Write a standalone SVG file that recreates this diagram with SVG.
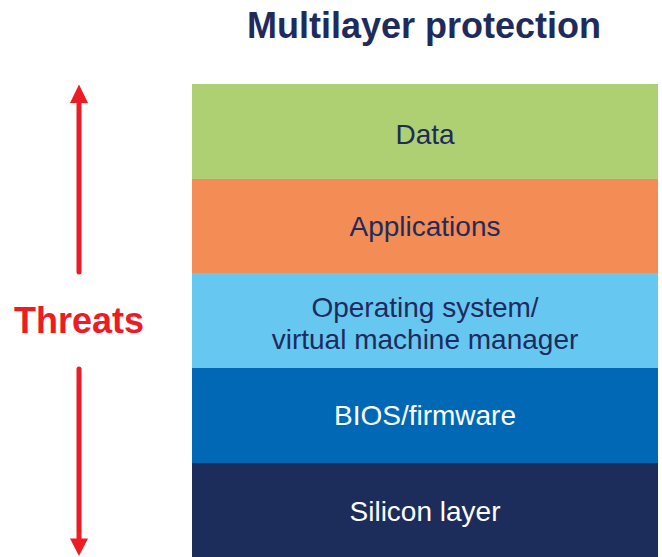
<svg xmlns="http://www.w3.org/2000/svg" width="662" height="557" viewBox="0 0 662 557">
<style>
  .lbl { font-family: "Liberation Sans", Arial, sans-serif; font-size: 28px; text-anchor: middle; }
  .dk { fill: #1E2B5C; }
  .lt { fill: #FFFFFF; }
  .arrow { stroke: #ED1C24; stroke-width: 5; stroke-linecap: round; fill: none; }
  .head { fill: #ED1C24; }
</style>
<rect width="662" height="557" fill="#FFFFFF"/>
<text x="424" y="38" font-family="'Liberation Sans', Arial, sans-serif" font-size="36" font-weight="bold" fill="#1E2B5C" text-anchor="middle">Multilayer protection</text>
<g id="data">
  <rect x="192" y="84" width="466" height="95" fill="#AED072"/>
  <text class="lbl dk" x="425" y="144">Data</text>
</g>
<g id="applications">
  <rect x="192" y="179" width="466" height="94" fill="#F48C55"/>
  <text class="lbl dk" x="425" y="236">Applications</text>
</g>
<g id="os">
  <rect x="192" y="273" width="466" height="95" fill="#66C8F1"/>
  <text class="lbl dk" x="425" y="317">Operating system/</text>
  <text class="lbl dk" x="425" y="349">virtual machine manager</text>
</g>
<g id="bios">
  <rect x="192" y="368" width="466" height="95" fill="#0068B5"/>
  <text class="lbl lt" x="425" y="425">BIOS/firmware</text>
</g>
<g id="silicon">
  <rect x="192" y="463" width="466" height="94" fill="#1C2C5B"/>
  <text class="lbl lt" x="425" y="521">Silicon layer</text>
</g>
<g id="threats">
  <text x="79" y="333" font-family="'Liberation Sans', Arial, sans-serif" font-size="36" font-weight="bold" fill="#ED1C24" text-anchor="middle">Threats</text>
</g>
<g id="connectors">
  <line class="arrow" x1="79" y1="272" x2="79" y2="100"/>
  <polygon class="head" points="79,84.5 70,103 88,103"/>
  <line class="arrow" x1="79" y1="369" x2="79" y2="541"/>
  <polygon class="head" points="79,556 70,538.5 88,538.5"/>
</g>
</svg>
